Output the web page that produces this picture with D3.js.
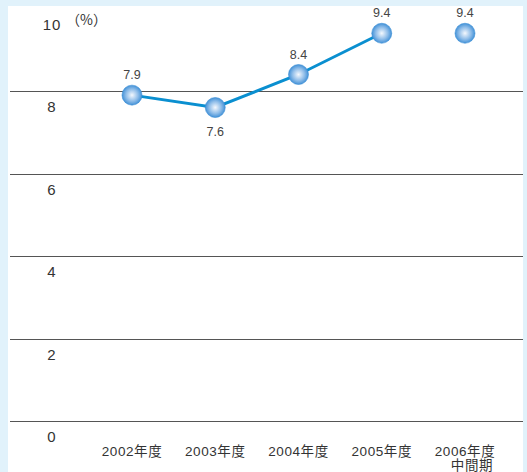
<!DOCTYPE html>
<html>
<head>
<meta charset="utf-8">
<script src="https://d3js.org/d3.v7.min.js"></script>
<style>
  body { margin: 0; background: #e1f2fb; }
</style>
</head>
<body>
<script>
  const categories = ["2002年度", "2003年度", "2004年度", "2005年度", "2006年度\n中間期"];
  const values = [7.9, 7.6, 8.4, 9.4, 9.4];
  const connected = [true, true, true, true, false];
  const labelBelow = [false, true, false, false, false];
  const yTicks = [0, 2, 4, 6, 8, 10];

  const w = 527, h = 472;
  const font = "Liberation Sans, Noto Sans CJK JP, sans-serif";

  const svg = d3.select("body").append("svg")
      .attr("width", w).attr("height", h)
      .style("display", "block");

  // white panel
  svg.append("rect").attr("x", 8).attr("y", 6)
     .attr("width", 515).attr("height", h - 6).attr("fill", "#fff");

  const yScale = d3.scaleLinear().domain([0, 10]).range([421, 8.5]);
  const xScale = d3.scalePoint().domain(categories).range([132, 465]);

  const defs = svg.append("defs");
  const grad = defs.append("radialGradient").attr("id", "ball")
      .attr("cx", "50%").attr("cy", "50%").attr("r", "55%")
      .attr("fx", "50%").attr("fy", "50%");
  grad.append("stop").attr("offset", "0%").attr("stop-color", "#f4f8fd");
  grad.append("stop").attr("offset", "55%").attr("stop-color", "#8fbde9");
  grad.append("stop").attr("offset", "100%").attr("stop-color", "#2f86d2");

  // gridlines (not at 10)
  svg.append("g").selectAll("line")
     .data(yTicks.filter(d => d < 10))
     .join("line")
     .attr("x1", 10).attr("x2", 523)
     .attr("y1", d => Math.round(yScale(d)) + 0.5)
     .attr("y2", d => Math.round(yScale(d)) + 0.5)
     .attr("stroke", "#555").attr("stroke-width", 1);

  // y tick labels, below each line
  svg.append("g").selectAll("text")
     .data(yTicks)
     .join("text")
     .attr("x", 52).attr("y", d => yScale(d) + 21)
     .attr("text-anchor", "middle")
     .attr("font-family", font)
     .attr("font-size", 15).attr("letter-spacing", 1).attr("fill", "#333")
     .text(d => d);

  svg.append("text").attr("x", 66).attr("y", yScale(10) + 16)
     .attr("font-family", "Noto Sans CJK JP, sans-serif")
     .attr("font-size", 14).attr("fill", "#333")
     .text("（%）");

  // category labels
  const catG = svg.append("g");
  categories.forEach((c, i) => {
    const parts = c.split("\n");
    const t = catG.append("text")
      .attr("x", xScale(c)).attr("y", 456)
      .attr("text-anchor", "middle")
      .attr("font-family", font)
      .attr("font-size", 13.5).attr("letter-spacing", 0.6).attr("fill", "#333");
    parts.forEach((p, j) => {
      t.append("tspan").attr("x", xScale(c) + (j ? 7 : 0)).attr("dy", j ? 14 : 0).text(p);
    });
  });

  // line
  const pts = categories.map((c, i) => ({c, v: values[i], on: connected[i], below: labelBelow[i]}));
  const line = d3.line().x(d => xScale(d.c)).y(d => yScale(d.v));
  svg.append("path").datum(pts.filter(d => d.on))
     .attr("d", line).attr("fill", "none")
     .attr("stroke", "#0a8fd0").attr("stroke-width", 3);

  // points
  svg.append("g").selectAll("circle").data(pts).join("circle")
     .attr("cx", d => xScale(d.c)).attr("cy", d => yScale(d.v))
     .attr("r", 10).attr("fill", "url(#ball)")
     .attr("stroke", "#3b8fd6").attr("stroke-width", 0.6);

  // value labels
  svg.append("g").selectAll("text").data(pts).join("text")
     .attr("x", d => xScale(d.c))
     .attr("y", d => yScale(d.v) + (d.below ? 28 : -16))
     .attr("text-anchor", "middle")
     .attr("font-family", font)
     .attr("font-size", 12.5).attr("fill", "#444")
     .text(d => d.v.toFixed(1));
</script>
</body>
</html>
